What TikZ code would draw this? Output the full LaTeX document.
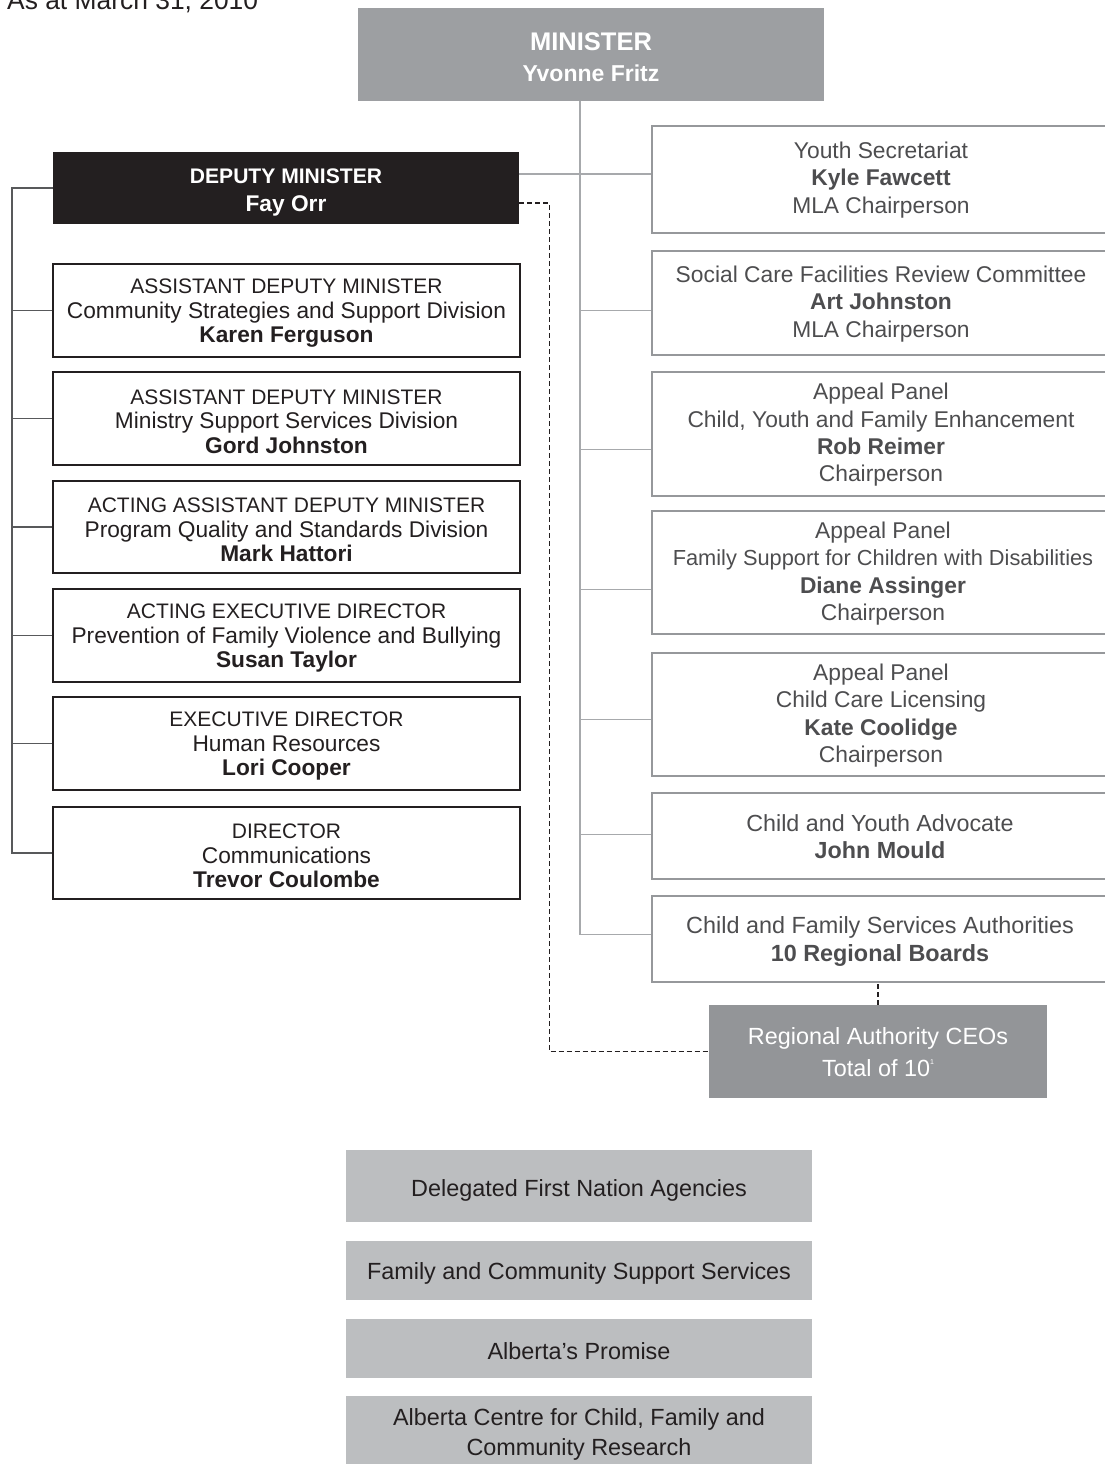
\documentclass[tikz,border=0pt]{standalone}
\usepackage{fontspec}
\setmainfont{Liberation Sans}
\definecolor{ink}{HTML}{231F20}
\definecolor{rlinecol}{HTML}{A7A9AC}
\definecolor{rtext}{HTML}{4D4D4F}
\definecolor{mingray}{HTML}{9D9FA2}
\definecolor{ceogray}{HTML}{939598}
\definecolor{lightbox}{HTML}{BCBEC0}
\definecolor{llinecol}{HTML}{58595B}
\begin{document}
\begin{tikzpicture}[x=1pt,y=-1pt,
  every node/.style={inner sep=0pt, align=center},
  lbox/.style={draw=ink, line width=1.2pt, minimum width=467pt},
  ltext/.style={text=ink, font=\fontsize{22.7}{24.5}\selectfont},
  rbox/.style={draw=rlinecol!90!black, line width=1.2pt, minimum width=458pt},
  rtxt/.style={text=rtext, font=\fontsize{22.8}{27.3}\selectfont},
  bbox/.style={fill=lightbox, minimum width=466pt},
  btext/.style={text=ink, font=\fontsize{23.4}{30}\selectfont},
  lconn/.style={draw=llinecol, line width=1.2pt},
  rconn/.style={draw=rlinecol, line width=1.3pt},
  dconn/.style={draw=ink, line width=1.1pt, dash pattern=on 5pt off 3pt}
]
\newcommand\capsline[1]{{\fontsize{21}{24.5}\selectfont #1}}
\useasboundingbox (0,0) rectangle (1104,1464);

% date
\node[anchor=base west, text=ink, font=\fontsize{26.4}{26}\selectfont] (date) at (7,10) {As at March 31, 2010};

% minister and deputy
\node[fill=mingray, minimum width=466pt, minimum height=93pt] (min) at (591,54.5) {};
\node[text=white, font=\fontsize{23}{31}\selectfont\bfseries] (mint) at ([yshift=-3pt]min.center) {{\fontsize{25.5}{31}\selectfont MINISTER}\\Yvonne Fritz};
\node[fill=ink, minimum width=466pt, minimum height=72pt] (dep) at (286,188) {};
\node[text=white, font=\fontsize{22.7}{28}\selectfont\bfseries] (dept) at ([yshift=-4pt]dep.center) {{\fontsize{21.1}{28}\selectfont DEPUTY MINISTER}\\Fay Orr};

% left boxes
\node[lbox, minimum height=93pt] (l1) at (286.5,310.5) {};
\node[lbox, minimum height=93pt] (l2) at (286.5,418.5) {};
\node[lbox, minimum height=92pt] (l3) at (286.5,527) {};
\node[lbox, minimum height=93pt] (l4) at (286.5,635.5) {};
\node[lbox, minimum height=93pt] (l5) at (286.5,743.5) {};
\node[lbox, minimum height=92pt] (l6) at (286.5,853) {};
\node[ltext] (l1t) at ([yshift=-3pt]l1.center) {\capsline{ASSISTANT DEPUTY MINISTER}\\Community Strategies and Support Division\\\textbf{Karen Ferguson}};
\node[ltext] (l2t) at ([yshift=-3pt]l2.center) {\capsline{ASSISTANT DEPUTY MINISTER}\\Ministry Support Services Division\\\textbf{Gord Johnston}};
\node[ltext] (l3t) at ([yshift=-3pt]l3.center) {\capsline{ACTING ASSISTANT DEPUTY MINISTER}\\Program Quality and Standards Division\\\textbf{Mark Hattori}};
\node[ltext] (l4t) at ([yshift=-3pt]l4.center) {\capsline{ACTING EXECUTIVE DIRECTOR}\\Prevention of Family Violence and Bullying\\\textbf{Susan Taylor}};
\node[ltext] (l5t) at ([yshift=-3pt]l5.center) {\capsline{EXECUTIVE DIRECTOR}\\Human Resources\\\textbf{Lori Cooper}};
\node[ltext] (l6t) at ([yshift=-3pt]l6.center) {\capsline{DIRECTOR}\\Communications\\\textbf{Trevor Coulombe}};

% right boxes
\node[rbox, minimum height=107pt] (r1) at (881,179.5) {};
\node[rbox, minimum height=104pt] (r2) at (881,303) {};
\node[rbox, minimum height=124pt] (r3) at (881,434) {};
\node[rbox, minimum height=123pt] (r4) at (881,572.5) {};
\node[rbox, minimum height=123pt] (r5) at (881,714.5) {};
\node[rbox, minimum height=86pt] (r6) at (881,836) {};
\node[rbox, minimum height=86pt] (r7) at (881,939) {};
\node[rtxt] (r1t) at ([yshift=-0.5pt]r1.center) {Youth Secretariat\\\textbf{Kyle Fawcett}\\MLA Chairperson};
\node[rtxt] (r2t) at ([yshift=-1pt]r2.center) {Social Care Facilities Review Committee\\\textbf{Art Johnston}\\MLA Chairperson};
\node[rtxt] (r3t) at ([yshift=-1pt]r3.center) {Appeal Panel\\Child, Youth and Family Enhancement\\\textbf{Rob Reimer}\\Chairperson};
\node[rtxt] (r4t) at ([xshift=2pt,yshift=-1pt]r4.center) {Appeal Panel\\{\fontsize{21.8}{27.3}\selectfont Family Support for Children with Disabilities}\\\textbf{Diane Assinger}\\Chairperson};
\node[rtxt] (r5t) at ([yshift=-1pt]r5.center) {Appeal Panel\\Child Care Licensing\\\textbf{Kate Coolidge}\\Chairperson};
\node[rtxt, font=\fontsize{23.3}{27.3}\selectfont] (r6t) at ([xshift=-1pt,yshift=-1pt]r6.center) {Child and Youth Advocate\\\textbf{John Mould}};
\node[rtxt, font=\fontsize{23.4}{27.3}\selectfont] (r7t) at ([xshift=-1pt,yshift=-2.5pt]r7.center) {Child and Family Services Authorities\\\textbf{10 Regional Boards}};

% regional CEOs
\node[fill=ceogray, minimum width=338pt, minimum height=93pt] (ceo) at (878,1051.5) {};
\node[text=white, font=\fontsize{23.4}{32}\selectfont] (ceot) at ([yshift=-1pt]ceo.center) {Regional Authority CEOs\\Total of 10\raisebox{0.55em}{\fontsize{7}{7}\selectfont 1}};

% bottom boxes
\node[bbox, minimum height=72pt] (b1) at (579,1186) {};
\node[bbox, minimum height=59pt] (b2) at (579,1270.5) {};
\node[bbox, minimum height=59pt] (b3) at (579,1348.5) {};
\node[bbox, minimum height=72pt] (b4) at (579,1432) {};
\node[btext] (b1t) at ([yshift=-4pt]b1.center) {Delegated First Nation Agencies};
\node[btext] (b2t) at ([yshift=-2.5pt]b2.center) {Family and Community Support Services};
\node[btext] (b3t) at ([yshift=-2.5pt]b3.center) {Alberta’s Promise};
\node[btext] (b4t) at ([yshift=-2.5pt]b4.center) {Alberta Centre for Child, Family and\\Community Research};

% right spine
\coordinate (rsp) at (580,0);
\draw[rconn] (min.south -| rsp) |- ([yshift=4.7pt]r7.west);
\draw[rconn] ([yshift=14pt]dep.east) -- ([yshift=14pt]dep.east -| r1.west);
\draw[rconn] ([yshift=-7.7pt]r2.west) -- ([yshift=-7.7pt]r2.west -| rsp);
\draw[rconn] ([yshift=-15.3pt]r3.west) -- ([yshift=-15.3pt]r3.west -| rsp);
\draw[rconn] ([yshift=-16.8pt]r4.west) -- ([yshift=-16.8pt]r4.west -| rsp);
\draw[rconn] ([yshift=-4.8pt]r5.west) -- ([yshift=-4.8pt]r5.west -| rsp);
\draw[rconn] ([yshift=1.7pt]r6.west) -- ([yshift=1.7pt]r6.west -| rsp);

% left spine
\coordinate (lsp) at (12,0);
\draw[lconn] (dep.west) -- (dep.west -| lsp) |- (l6.west);
\foreach \i in {1,...,5} {\draw[lconn] (l\i.west) -- (l\i.west -| lsp);}

% dashed links
\draw[dconn] ([yshift=-15pt]dep.east) -- ++(30,0) |- (ceo.west);
\draw[dconn] (ceo.north) -- (ceo.north |- r7.south);
\end{tikzpicture}
\end{document}
